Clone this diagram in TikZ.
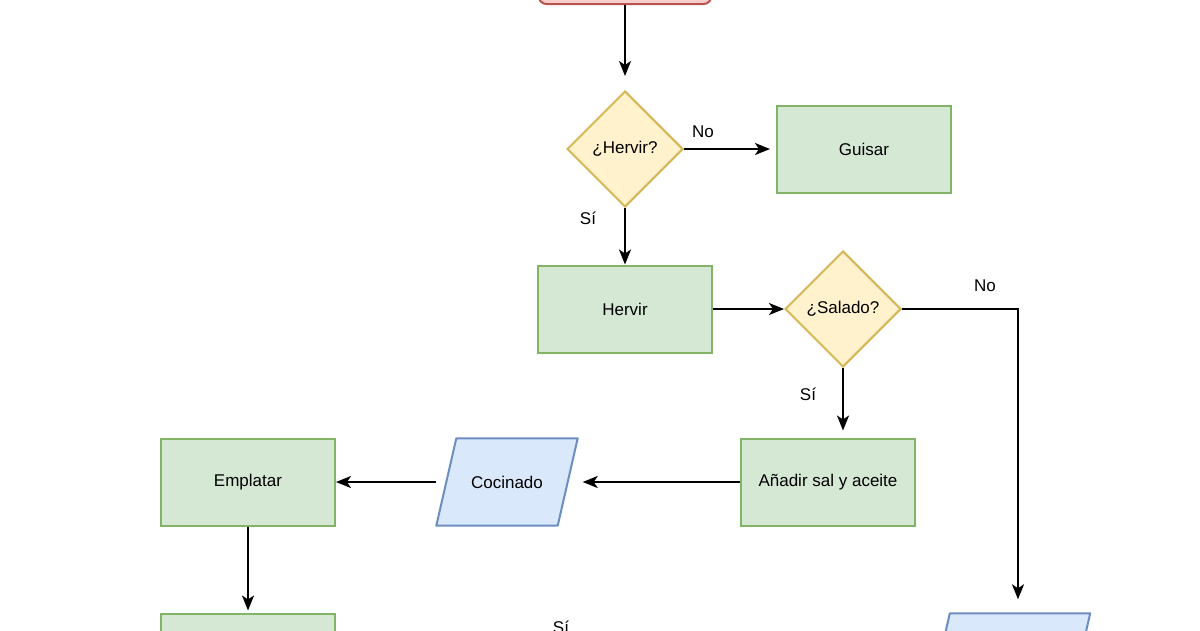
\documentclass[tikz,border=0pt]{standalone}
\usepackage{fontspec}
\setmainfont{Liberation Sans}
\usetikzlibrary{shapes.geometric,arrows.meta,backgrounds}
\definecolor{verdefill}{HTML}{D5E8D4}
\definecolor{verdeline}{HTML}{82B366}
\definecolor{amarillofill}{HTML}{FFF2CC}
\definecolor{amarilloline}{HTML}{D6B656}
\definecolor{azulfill}{HTML}{DAE8FC}
\definecolor{azulline}{HTML}{6C8EBF}
\definecolor{rojofill}{HTML}{F8CECC}
\definecolor{rojoline}{HTML}{B85450}

\begin{document}
\begin{tikzpicture}[x=1pt, y=-1pt, font=\fontsize{17}{20}\selectfont,
        proceso/.style={draw=verdeline, fill=verdefill, line width=2pt,
          minimum width=174pt, minimum height=87pt, inner sep=0pt},
        decision/.style={diamond, draw=amarilloline, fill=amarillofill, line width=2pt,
          minimum width=116pt, minimum height=116pt, inner sep=0pt},
        dato/.style={minimum width=141pt, minimum height=87pt, inner sep=0pt},
        datoborde/.style={draw=azulline, fill=azulfill, line width=2pt, line join=round},
        inicio/.style={rounded corners=8pt, draw=rojoline, fill=rojofill, line width=2pt,
          minimum width=173pt, minimum height=40pt},
        flecha/.style={line width=2pt, -{Stealth[length=15pt, width=12pt, inset=4pt]}}]
        \useasboundingbox (0,0) rectangle (1200,630);
        \clip (0,0) rectangle (1200,630);

        \node[inicio] (inicio) at (625,-16) {};
        \node[decision] (hervir) at (625,149) {¿Hervir?};
        \node[proceso] (guisar) at (864,149) {Guisar};
        \node[proceso] (cocer) at (625,309) {Hervir};
        \node[decision] (salado) at (843,309) {¿Salado?};
        \node[proceso] (sal) at (828,482) {Añadir sal y aceite};
        \node[dato] (cocinado) at (507,482) {Cocinado};
        \node[proceso] (emplatar) at (248,482) {Emplatar};
        \node[proceso] (servir) at (248,657) {};
        \node[dato, minimum width=160pt] (crudo) at (1010,657) {};

        \begin{scope}[on background layer]
          \fill[white] (0,0) rectangle (1200,630);
          \foreach \n in {cocinado,crudo}
            \draw[datoborde] ([xshift=20pt]\n.north west) -- (\n.north east)
              -- ([xshift=-20pt]\n.south east) -- (\n.south west) -- cycle;
        \end{scope}

        \node (no1) at (703,132) {No};
        \node (si1) at (588,218) {Sí};
        \node (no2) at (985,286) {No};
        \node (si2) at (808,394) {Sí};
        \node (si3) at (561,627) {Sí};

        \draw[flecha, shorten >=14pt] (inicio) -- (hervir);
        \draw[flecha, shorten >=6pt] (hervir) -- (guisar);
        \draw[flecha] (hervir) -- (cocer);
        \draw[flecha] (cocer) -- (salado);
        \draw[flecha, shorten >=7pt] (salado.south) -- (salado.south |- sal.north);
        \draw[flecha, shorten >=14pt] (salado.east) -| ([xshift=8pt]crudo.north);
        \draw[flecha, shorten >=5pt] (sal) -- (cocinado);
        \draw[flecha] (cocinado) -- (emplatar);
        \draw[flecha, shorten >=2pt] (emplatar) -- (servir);
\end{tikzpicture}
\end{document}
